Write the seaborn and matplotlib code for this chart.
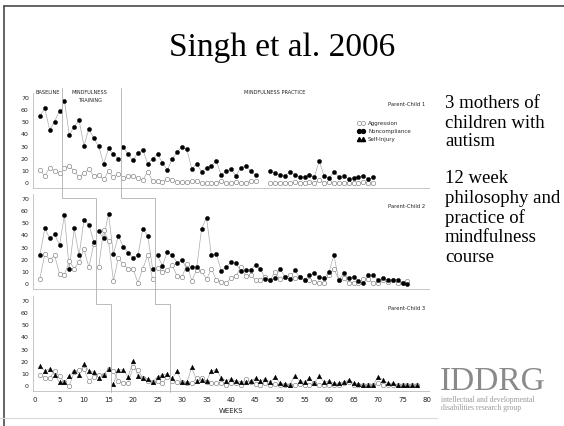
import matplotlib
matplotlib.use("Agg")
import matplotlib.pyplot as plt
import numpy as np
import pandas as pd
import seaborn as sns
from matplotlib.lines import Line2D

nan = np.nan

# weekly rates
p1_noncompliance = [55.5, 61.5, 43.7, 50.5, 59.6, 67.9, 39.6, 46.4, 51.6, 30.5,
                    44.8, 36.8, 30.2, 15.7, 28.6, 23.9, 19.8, 29.7, 23.6, 18.7,
                    24.7, 27.5, 15.7, 20.0, 23.6, 16.8, 10.4, 19.8, 25.5, 29.7,
                    27.7, 11.3, 15.9, 9.3, 12.6, 14.3, 17.9, 6.6, 9.6, 11.5,
                    6.0, 12.6, 14.0, 9.9, 6.6, nan, nan, 10.0, 8.0, 6.5,
                    6.0, 9.0, 7.0, 5.0, 5.0, 7.0, 5.0, 18.0, 6.0, 4.0,
                    9.0, 5.0, 6.0, 3.0, 4.0, 5.0, 6.0, 3.0, 5.0]
p1_aggression = [10.7, 6.0, 12.6, 9.9, 8.5, 12.6, 14.0, 9.9, 4.7, 8.5,
                 11.3, 5.8, 6.6, 3.0, 9.6, 4.9, 7.1, 3.8, 6.0, 5.8,
                 3.8, 2.5, 9.3, 1.6, 1.6, 0.5, 3.3, 2.7, 0.5, 0.5,
                 0.5, 1.6, 1.6, 0, 0, 0, 0, 1.6, 0, 0,
                 1.0, 0, 0, 1.5, 1.5, nan, nan, 0, 0, 0,
                 0, 0, 1.0, 0, 0, 1.0, 0, 2.5, 0, 1.0,
                 0, 0, 0, 0, 0, 0, 1.0, 0, 0]

p2_noncompliance = [23.6, 45.9, 37.6, 40.9, 31.9, 56.6, 12.4, 45.9, 23.6, 52.7,
                    48.9, 34.6, 43.4, 37.6, 57.7, 24.7, 39.6, 30.8, 25.8, 21.7,
                    23.6, 45.6, 39.8, 12.6, 23.6, 15.1, 26.4, 23.6, 17.6, 19.5,
                    12.6, 13.7, 13.7, 45.6, 54.7, 23.6, 24.7, 10.7, 13.7, 18.1,
                    17.0, 10.7, 11.5, 11.5, 15.7, 12.6, 4.0, 3.5, 5.0, 12.6,
                    6.0, 4.0, 11.5, 5.5, 3.3, 7.1, 8.8, 5.5, 4.7, 10.0,
                    23.6, 3.5, 8.8, 4.7, 5.5, 2.7, 0.5, 7.1, 7.1, 3.3,
                    4.7, 3.3, 3.3, 3.3, 1.1, 0]
p2_aggression = [4.4, 24.7, 19.8, 23.6, 8.5, 7.7, 18.7, 12.6, 18.1, 28.6,
                 13.7, 33.0, 13.7, 44.5, 35.7, 2.7, 21.2, 16.2, 12.6, 12.6,
                 1.1, 12.6, 23.6, 3.8, 13.5, 9.9, 11.5, 15.4, 6.6, 5.5,
                 16.5, 2.7, 11.5, 10.7, 3.8, 12.6, 3.3, 2.0, 1.0, 4.7,
                 6.6, 13.7, 6.6, 7.1, 3.3, 3.3, 5.5, 3.3, 10.2, 3.8,
                 5.5, 7.1, 4.7, 5.5, 3.3, 3.3, 2.0, 1.1, 1.1, 7.4,
                 12.6, 3.3, 4.7, 1.0, 1.0, 1.0, 3.8, 3.8, 1.0, 1.0,
                 3.3, 2.0, 3.3, 1.0, 1.0, 2.7]

p3_selfinjury = [16.4, 12.5, 14.2, 9.2, 3.0, 3.0, 8.3, 12.0, 9.2, 18.0,
                 12.5, 11.4, 6.9, 9.2, 14.2, 1.9, 13.3, 13.3, 7.5, 20.3,
                 8.6, 6.9, 5.8, 3.6, 7.5, 9.2, 10.0, 6.4, 12.0, 3.0,
                 3.0, 15.3, 4.2, 5.0, 4.2, 12.5, 13.3, 6.9, 4.2, 5.8,
                 4.2, 3.6, 3.0, 4.2, 6.4, 4.2, 5.8, 3.0, 7.8, 2.2,
                 1.4, 0.8, 8.6, 4.2, 3.0, 6.4, 2.2, 8.6, 3.0, 4.2,
                 2.2, 2.2, 3.0, 5.0, 2.2, 1.4, 0.8, 0.8, 0.8, 7.8,
                 5.0, 2.2, 2.2, 0.8, 0.8, 0.8, 0.8, 0.8]
p3_aggression = [9.2, 6.9, 6.9, 12.0, 8.0, 3.0, 0.3, 11.4, 13.3, 14.2,
                 4.2, 7.8, 9.2, 9.2, 14.2, 12.5, 4.2, 2.5, 2.2, 15.3,
                 13.3, 6.4, 4.2, 3.0, 4.2, 2.2, 7.5, 4.2, 3.6, 3.0,
                 2.2, 2.2, 6.4, 6.4, 3.0, 2.2, 2.2, 2.2, 1.0, 2.2,
                 2.2, 1.0, 5.8, 3.0, 1.4, 1.0, 2.2, 1.0, 1.4, 1.0,
                 1.0, 1.0, 1.0, 2.0, 1.0, 1.0, 2.2, 1.0, 1.0, 1.0,
                 1.0, 1.0, 2.2, 3.6, 1.0, 1.0, 1.0, 1.0, 1.0, 2.2,
                 1.0, 1.0, 1.0, 1.0, 1.0, 1.0, 1.0, 1.0]

# phase changes (baseline -> training -> practice), in weeks
p1_phases = [5.5, 17.5]
p2_phases = [12.5, 24.5]
p3_phases = [15.5, 27.5]

panel_names = ["Parent-Child 1", "Parent-Child 2", "Parent-Child 3"]
x_ticks = list(range(0, 81, 5))
y_ticks = list(range(0, 71, 10))

W, H = 564, 426
def fx(px):
    return px / W
def fy(py):
    return 1 - py / H

sns.set_style("white")
plt.rcParams["font.family"] = ["DejaVu Sans"]

fig = plt.figure(figsize=(5.64, 4.26), dpi=100)

def to_frame(values, phases):
    v = np.array(values, dtype=float)
    wk = np.arange(1, len(v) + 1)
    seg = np.digitize(wk, phases) * 100 + np.cumsum(np.isnan(v))
    df = pd.DataFrame({"week": wk, "value": v, "seg": seg})
    return df.dropna()

styles = {
    "agg": dict(color="white", edgecolor="#8c8c8c", linewidth=0.5, marker="o", s=10),
    "non": dict(color="black", edgecolor="black", linewidth=0.3, marker="o", s=9),
    "sib": dict(color="black", edgecolor="black", linewidth=0.3, marker="^", s=11),
}

panels = [
    (p1_phases, [("agg", p1_aggression), ("non", p1_noncompliance)], 183),
    (p2_phases, [("agg", p2_aggression), ("non", p2_noncompliance)], 284),
    (p3_phases, [("agg", p3_aggression), ("sib", p3_selfinjury)], 386),
]

x_lo, x_hi = -0.4, 80.5
pxw = 4.9
left_px = 35 + x_lo * pxw
width_px = (x_hi - x_lo) * pxw
pxv = 1.214

axes = []
for i, (phases, series, zero_px) in enumerate(panels):
    top = zero_px - 74 * pxv
    bot = zero_px + 4 * pxv
    ax = fig.add_axes([fx(left_px), fy(bot), width_px / W, (bot - top) / H])
    ax.set_facecolor("none")
    for key, vals in series:
        df = to_frame(vals, phases)
        sns.lineplot(data=df, x="week", y="value", units="seg", estimator=None,
                     color="#ababab", lw=0.5, ax=ax, legend=False, zorder=1)
    for key, vals in series:
        df = to_frame(vals, phases)
        sns.scatterplot(data=df, x="week", y="value", ax=ax, legend=False,
                        zorder=3, **styles[key])
    ax.set_xlim(x_lo, x_hi)
    ax.set_ylim(-4, 74)
    ax.set_xticks(x_ticks)
    ax.set_yticks(y_ticks)
    ax.set_xlabel("")
    ax.set_ylabel("")
    sns.despine(ax=ax)
    for s in ["left", "bottom"]:
        ax.spines[s].set_color("#bdbdbd")
        ax.spines[s].set_linewidth(0.6)
    ax.tick_params(axis="x", length=2, width=0.5, color="#9a9a9a",
                   labelsize=5, pad=2.5, labelcolor="#222")
    ax.tick_params(axis="y", length=0, labelsize=4.5, pad=3, labelcolor="#222")
    if i < 2:
        ax.set_xticklabels([])
    fig.text(fx(425), fy(zero_px - 78), panel_names[i], ha="right", va="center",
             fontsize=3.8, color="#222")
    axes.append(ax)

axes[2].set_xlabel("WEEKS", fontsize=5, labelpad=3.5, color="#222")

# legend in the first panel
handles = [
    Line2D([], [], color="#ababab", lw=0.5, marker="o", mfc="white", mec="#8c8c8c",
           mew=0.5, ms=3.0),
    Line2D([], [], color="#ababab", lw=0.5, marker="o", mfc="black", mec="black",
           ms=2.8),
    Line2D([], [], color="#ababab", lw=0.5, marker="^", mfc="black", mec="black",
           ms=3.0),
]
axes[0].legend(handles, ["Aggression", "Noncompliance", "Self-Injury"],
               loc="upper left", bbox_to_anchor=(fx(357), fy(121)),
               bbox_transform=fig.transFigure, frameon=False, fontsize=4,
               handlelength=1.4, handletextpad=0.6, labelspacing=0.55,
               borderpad=0, borderaxespad=0, numpoints=2)

# phase change lines running down through the panels
over = fig.add_axes([fx(left_px), 0, width_px / W, 1])
over.set_xlim(x_lo, x_hi)
over.set_ylim(H, 0)
over.axis("off")
step_y = [88, 198, 198, 304, 304, 392]
for k in range(2):
    xs = [p1_phases[k], p1_phases[k], p2_phases[k], p2_phases[k],
          p3_phases[k], p3_phases[k]]
    over.plot(xs, step_y, color="#b0b0b0", lw=0.6)

# phase labels
fig.text(fx(48), fy(92), "BASELINE", ha="center", va="center", fontsize=3.6, color="#222")
fig.text(fx(89), fy(92), "MINDFULNESS", ha="center", va="center", fontsize=3.6, color="#222")
fig.text(fx(90), fy(101), "TRAINING", ha="center", va="center", fontsize=3.6, color="#222")
fig.text(fx(275), fy(92), "MINDFULNESS PRACTICE", ha="center", va="center",
         fontsize=3.6, color="#222")

# slide title and notes
serif = ["Liberation Serif", "DejaVu Serif"]
fig.text(fx(282), fy(48), "Singh et al. 2006", ha="center", va="center",
         fontsize=24, family=serif, color="black")
notes = [("3 mothers of", 103), ("children with", 123), ("autism", 142),
         ("12 week", 178), ("philosophy and", 198), ("practice of", 218),
         ("mindfulness", 238), ("course", 258)]
for txt, y in notes:
    fig.text(fx(445), fy(y), txt, ha="left", va="center", fontsize=13.5,
             family=serif, color="black")

# IDDRG logo text
fig.text(fx(440), fy(382), "IDDRG", ha="left", va="center", fontsize=24,
         family=serif, color="#8a8a8a")
fig.text(fx(441), fy(400), "intellectual and developmental", ha="left", va="center",
         fontsize=5.5, family=serif, color="#9a9a9a")
fig.text(fx(441), fy(407.5), "disabilities research group", ha="left", va="center",
         fontsize=5.5, family=serif, color="#9a9a9a")

# slide frame
fig.add_artist(Line2D([fx(4), fx(4)], [0, fy(6)], transform=fig.transFigure,
                      color="#4a4a4a", lw=1.2))
fig.add_artist(Line2D([fx(4), 1], [fy(6), fy(6)], transform=fig.transFigure,
                      color="#4a4a4a", lw=1.2))
fig.add_artist(Line2D([0, fx(437)], [fy(418), fy(418)], transform=fig.transFigure,
                      color="#d9d9d9", lw=0.8))

fig.savefig("out.png", dpi=100)
